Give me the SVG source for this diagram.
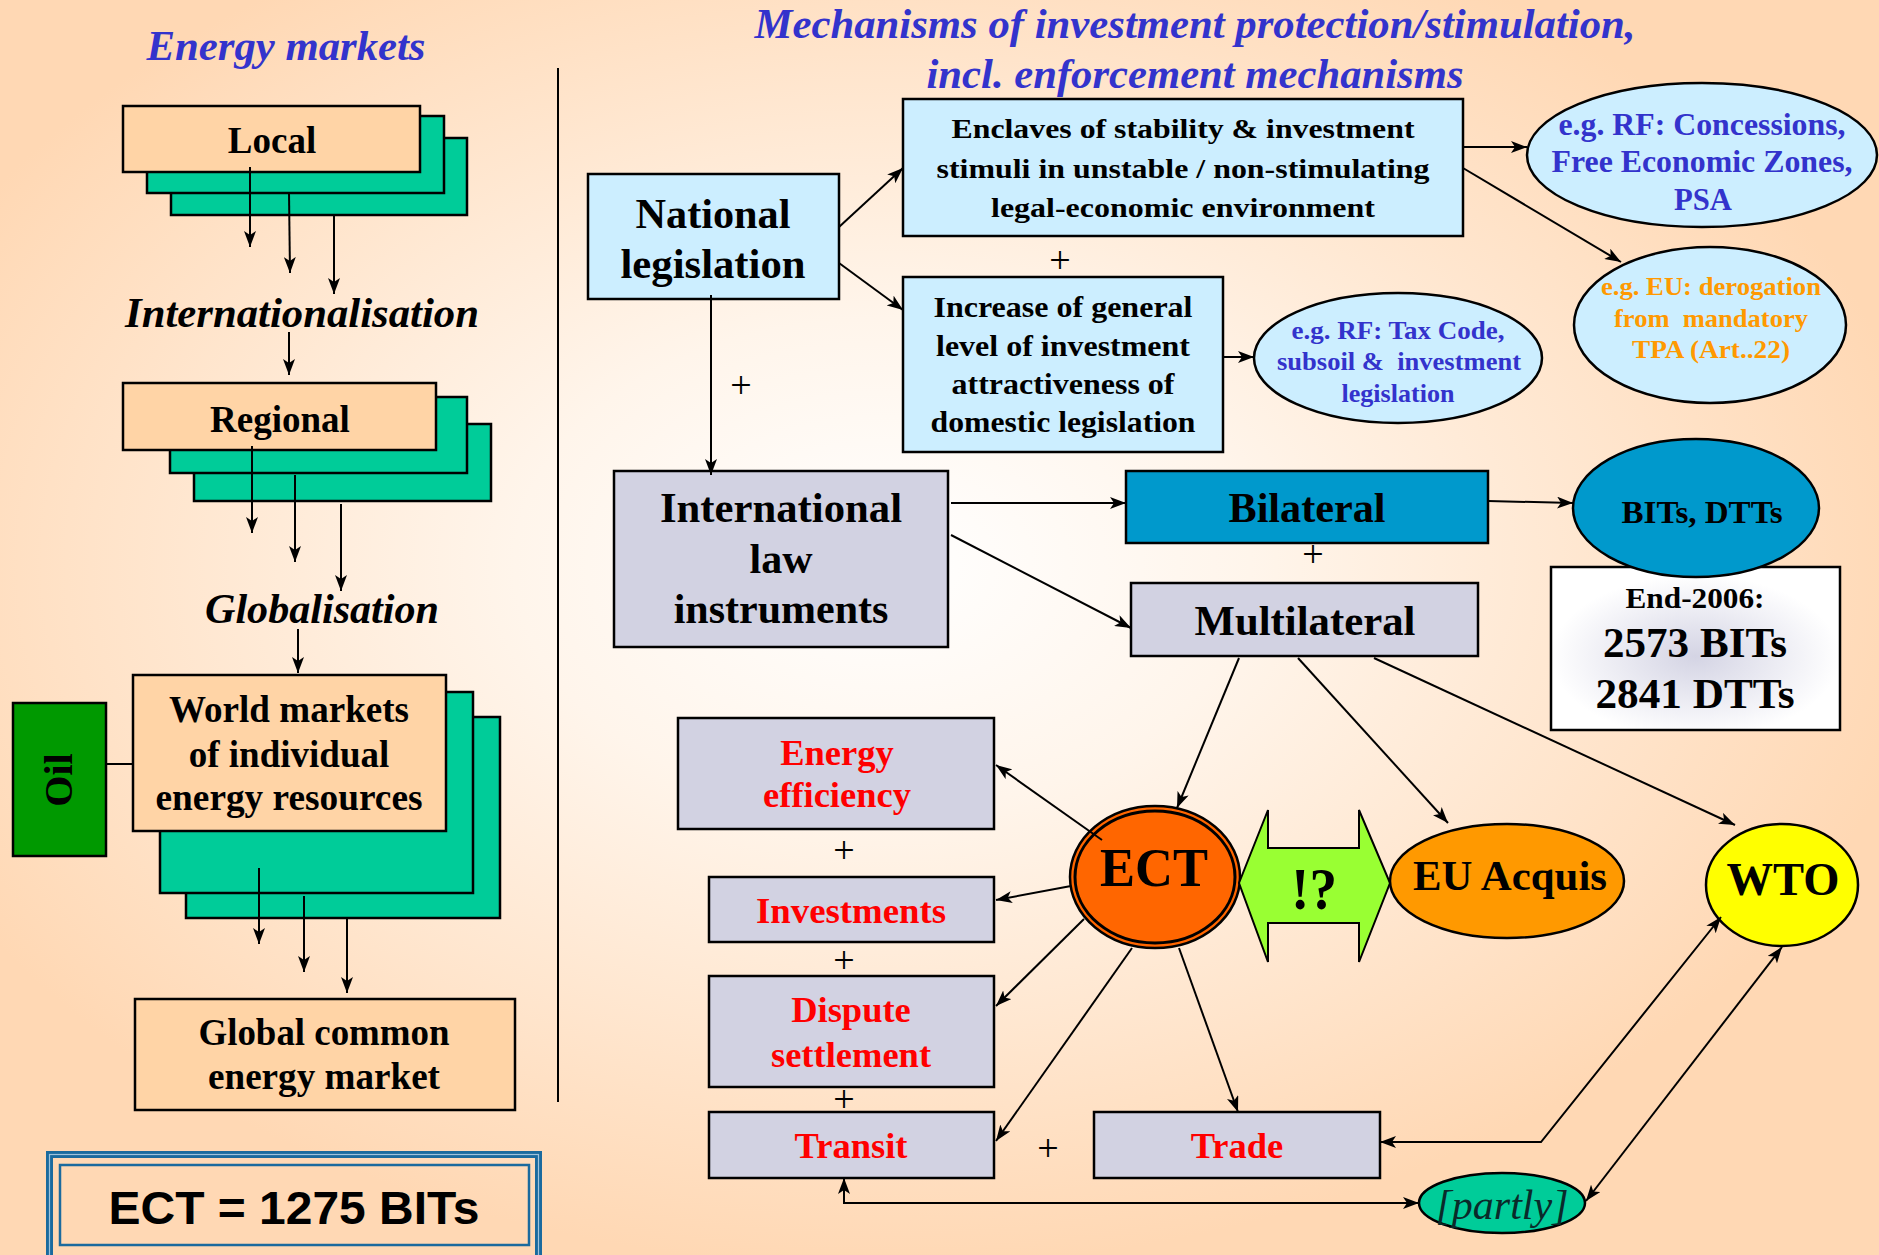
<svg xmlns="http://www.w3.org/2000/svg" width="1879" height="1255" viewBox="0 0 1879 1255">
<defs>
  <radialGradient id="bg" cx="0.47" cy="0.45" r="0.56">
    <stop offset="0" stop-color="#ffffff"/>
    <stop offset="0.35" stop-color="#fff5eb"/>
    <stop offset="1" stop-color="#ffd8b4"/>
  </radialGradient>
  <radialGradient id="endbg" cx="0.5" cy="0.55" r="0.5">
    <stop offset="0" stop-color="#d4d4e4"/>
    <stop offset="0.7" stop-color="#f2f2f7"/>
    <stop offset="1" stop-color="#ffffff"/>
  </radialGradient>
  <marker id="ah" markerUnits="userSpaceOnUse" markerWidth="16" markerHeight="12" refX="16" refY="6" orient="auto-start-reverse">
    <path d="M0,0 L16,6 L0,12 L4,6 z" fill="#000"/>
  </marker>
</defs>
<style>
  text { font-family: "Liberation Serif", "Times New Roman", serif; font-weight: bold; text-anchor: middle; fill: #000; }
  .it { font-style: italic; }
  .blue { fill: #3333cc; }
  .red { fill: #ff0000; }
  .org { fill: #ff9900; }
  .plus { font-weight: normal; font-size: 38px; }
  .box { stroke: #000; stroke-width: 2.5; }
  .pe { fill: #ffd4a6; }
  .gr { fill: #00cc99; }
  .lb { fill: #cceeff; }
  .gy { fill: #d2d2e2; }
  .cy { fill: #0099cc; }
  .cn line, .cn polyline { stroke: #000; stroke-width: 2; fill: none; }
  .cn .a { marker-end: url(#ah); }
  .cn .b { marker-start: url(#ah); marker-end: url(#ah); }
</style>
<rect x="0" y="0" width="1879" height="1255" fill="url(#bg)"/>

<!-- left column titles -->
<text class="it blue" x="286" y="60" font-size="42" textLength="279" lengthAdjust="spacingAndGlyphs">Energy markets</text>
<text class="it" x="302" y="327" font-size="42" textLength="354" lengthAdjust="spacingAndGlyphs">Internationalisation</text>
<text class="it" x="322" y="623" font-size="42" textLength="234" lengthAdjust="spacingAndGlyphs">Globalisation</text>
<line x1="558" y1="68" x2="558" y2="1102" stroke="#000" stroke-width="2"/>

<g id="local">
  <rect class="box gr" x="171" y="138" width="296" height="77"/>
  <rect class="box gr" x="147" y="116" width="297" height="77"/>
  <rect class="box pe" x="123" y="106" width="297" height="66"/>
  <text x="272" y="153" font-size="37">Local</text>
</g>
<g id="regional">
  <rect class="box gr" x="194" y="424" width="297" height="77"/>
  <rect class="box gr" x="170" y="397" width="297" height="76"/>
  <rect class="box pe" x="123" y="383" width="313" height="67"/>
  <text x="280" y="432" font-size="37">Regional</text>
</g>
<g id="world">
  <rect class="box gr" x="186" y="717" width="314" height="201"/>
  <rect class="box gr" x="160" y="692" width="313" height="201"/>
  <rect class="box pe" x="133" y="675" width="313" height="156"/>
  <text x="289" y="722" font-size="37" textLength="240" lengthAdjust="spacingAndGlyphs">World markets</text>
  <text x="289" y="767" font-size="37">of individual</text>
  <text x="289" y="810" font-size="37" textLength="267" lengthAdjust="spacingAndGlyphs">energy resources</text>
</g>
<g id="oil">
  <rect class="box" x="13" y="703" width="93" height="153" fill="#009900"/>
  <text transform="translate(72,780) rotate(-90)" x="0" y="0" font-size="40">Oil</text>
</g>
<g id="global">
  <rect class="box pe" x="135" y="999" width="380" height="111"/>
  <text x="324" y="1045" font-size="37" textLength="251" lengthAdjust="spacingAndGlyphs">Global common</text>
  <text x="324" y="1089" font-size="37" textLength="232" lengthAdjust="spacingAndGlyphs">energy market</text>
</g>
<g id="ect-bits">
  <rect x="49.5" y="1154.5" width="489" height="104" fill="none" stroke="#1a6a9e" stroke-width="7"/>
  <rect x="49.5" y="1154.5" width="489" height="104" fill="none" stroke="#9fc3dc" stroke-width="1.2"/>
  <rect x="60" y="1165" width="469" height="80" fill="none" stroke="#1a6a9e" stroke-width="2.5"/>
  <text x="294" y="1224" font-size="47" style="font-family:'Liberation Sans',Arial,sans-serif" textLength="371" lengthAdjust="spacingAndGlyphs">ECT = 1275 BITs</text>
</g>

<!-- right title -->
<text class="it blue" x="1195" y="38" font-size="42" textLength="881" lengthAdjust="spacingAndGlyphs">Mechanisms of investment protection/stimulation,</text>
<text class="it blue" x="1195" y="88" font-size="42" textLength="537" lengthAdjust="spacingAndGlyphs">incl. enforcement mechanisms</text>

<g id="national">
  <rect class="box lb" x="588" y="174" width="251" height="125"/>
  <text x="713" y="228" font-size="43" textLength="155" lengthAdjust="spacingAndGlyphs">National</text>
  <text x="713" y="278" font-size="43" textLength="185" lengthAdjust="spacingAndGlyphs">legislation</text>
</g>
<g id="enclaves">
  <rect class="box lb" x="903" y="99" width="560" height="137"/>
  <text x="1183" y="138" font-size="28" textLength="463" lengthAdjust="spacingAndGlyphs">Enclaves of stability &amp; investment</text>
  <text x="1183" y="178" font-size="28" textLength="493" lengthAdjust="spacingAndGlyphs">stimuli in unstable / non-stimulating</text>
  <text x="1183" y="217" font-size="28" textLength="384" lengthAdjust="spacingAndGlyphs">legal-economic environment</text>
</g>
<g id="increase">
  <rect class="box lb" x="903" y="277" width="320" height="175"/>
  <text x="1063" y="317" font-size="28.5" textLength="259" lengthAdjust="spacingAndGlyphs">Increase of general</text>
  <text x="1063" y="356" font-size="28.5" textLength="254" lengthAdjust="spacingAndGlyphs">level of investment</text>
  <text x="1063" y="394" font-size="28.5" textLength="223" lengthAdjust="spacingAndGlyphs">attractiveness of</text>
  <text x="1063" y="432" font-size="28.5" textLength="265" lengthAdjust="spacingAndGlyphs">domestic legislation</text>
</g>
<g id="concessions">
  <ellipse class="box lb" cx="1702" cy="155" rx="175" ry="72" stroke-width="2"/>
  <text class="blue" x="1702" y="135" font-size="32" textLength="287" lengthAdjust="spacingAndGlyphs">e.g. RF: Concessions,</text>
  <text class="blue" x="1702" y="172" font-size="32" textLength="301" lengthAdjust="spacingAndGlyphs">Free Economic Zones,</text>
  <text class="blue" x="1703" y="210" font-size="32" textLength="58" lengthAdjust="spacingAndGlyphs">PSA</text>
</g>
<g id="eu-derogation">
  <ellipse class="box lb" cx="1710" cy="325" rx="136" ry="78" stroke-width="2"/>
  <text class="org" x="1711" y="295" font-size="26" textLength="220" lengthAdjust="spacingAndGlyphs">e.g. EU: derogation</text>
  <text class="org" x="1711" y="327" font-size="26" xml:space="preserve" textLength="194" lengthAdjust="spacingAndGlyphs">from  mandatory</text>
  <text class="org" x="1711" y="358" font-size="26" textLength="158" lengthAdjust="spacingAndGlyphs">TPA (Art..22)</text>
</g>
<g id="tax-code">
  <ellipse class="box lb" cx="1398" cy="358" rx="144" ry="65" stroke-width="2"/>
  <text class="blue" x="1398" y="339" font-size="26" textLength="213" lengthAdjust="spacingAndGlyphs">e.g. RF: Tax Code,</text>
  <text class="blue" x="1399" y="370" font-size="26" xml:space="preserve" textLength="244" lengthAdjust="spacingAndGlyphs">subsoil &amp;  investment</text>
  <text class="blue" x="1398" y="402" font-size="26" textLength="113" lengthAdjust="spacingAndGlyphs">legislation</text>
</g>
<g id="international">
  <rect class="box gy" x="614" y="471" width="334" height="176"/>
  <text x="781" y="522" font-size="42" textLength="242" lengthAdjust="spacingAndGlyphs">International</text>
  <text x="781" y="573" font-size="42">law</text>
  <text x="781" y="623" font-size="42">instruments</text>
</g>
<g id="bilateral">
  <rect class="box cy" x="1126" y="471" width="362" height="72"/>
  <text x="1307" y="522" font-size="42" textLength="157" lengthAdjust="spacingAndGlyphs">Bilateral</text>
</g>
<g id="multilateral">
  <rect class="box gy" x="1131" y="583" width="347" height="73"/>
  <text x="1305" y="635" font-size="42" textLength="221" lengthAdjust="spacingAndGlyphs">Multilateral</text>
</g>
<g id="end-2006">
  <rect class="box" x="1551" y="567" width="289" height="163" fill="url(#endbg)" stroke-width="2"/>
  <text x="1695" y="608" font-size="30" textLength="139" lengthAdjust="spacingAndGlyphs">End-2006:</text>
  <text x="1695" y="657" font-size="42" textLength="184" lengthAdjust="spacingAndGlyphs">2573 BITs</text>
  <text x="1695" y="708" font-size="42" textLength="199" lengthAdjust="spacingAndGlyphs">2841 DTTs</text>
</g>
<g id="bits-dtts">
  <ellipse class="box cy" cx="1696" cy="508" rx="123" ry="69" stroke-width="2"/>
  <text x="1702" y="523" font-size="32" textLength="161" lengthAdjust="spacingAndGlyphs">BITs, DTTs</text>
</g>
<g id="energy-efficiency">
  <rect class="box gy" x="678" y="718" width="316" height="111"/>
  <text class="red" x="837" y="765" font-size="36.5">Energy</text>
  <text class="red" x="837" y="807" font-size="36.5">efficiency</text>
</g>
<g id="investments">
  <rect class="box gy" x="709" y="877" width="285" height="65"/>
  <text class="red" x="851" y="923" font-size="36.5" textLength="190" lengthAdjust="spacingAndGlyphs">Investments</text>
</g>
<g id="dispute">
  <rect class="box gy" x="709" y="976" width="285" height="111"/>
  <text class="red" x="851" y="1022" font-size="36.5">Dispute</text>
  <text class="red" x="851" y="1067" font-size="36.5">settlement</text>
</g>
<g id="transit">
  <rect class="box gy" x="709" y="1112" width="285" height="66"/>
  <text class="red" x="851" y="1158" font-size="36.5">Transit</text>
</g>
<g id="trade">
  <rect class="box gy" x="1094" y="1112" width="286" height="66"/>
  <text class="red" x="1237" y="1158" font-size="36.5">Trade</text>
</g>
<g id="ect">
  <ellipse cx="1155" cy="877" rx="85" ry="71" fill="#ff6600" stroke="#000" stroke-width="2.5"/>
  <ellipse cx="1155" cy="877" rx="80" ry="66" fill="none" stroke="#000" stroke-width="3"/>
  <text x="1154" y="886" font-size="54" textLength="108" lengthAdjust="spacingAndGlyphs">ECT</text>
</g>
<g id="question">
  <polygon points="1239,883 1268,810 1268,848 1359,848 1359,810 1390,883 1359,962 1359,923 1268,923 1268,962" fill="#99ff33" stroke="#000" stroke-width="2"/>
  <text x="1314" y="909" font-size="60" textLength="46" lengthAdjust="spacingAndGlyphs">!?</text>
</g>
<g id="eu-acquis">
  <ellipse class="box" cx="1507" cy="881" rx="117" ry="57" fill="#ff9900" stroke-width="2"/>
  <text x="1510" y="890" font-size="42" textLength="194" lengthAdjust="spacingAndGlyphs">EU Acquis</text>
</g>
<g id="wto">
  <ellipse class="box" cx="1782" cy="885" rx="76" ry="61" fill="#ffff00" stroke-width="2"/>
  <text x="1783" y="895" font-size="47" textLength="113" lengthAdjust="spacingAndGlyphs">WTO</text>
</g>
<g id="partly">
  <ellipse class="box" cx="1502" cy="1203" rx="83" ry="30" fill="#00cc99" stroke-width="2"/>
  <text class="it" x="1502" y="1219" font-size="42" style="font-weight:normal;fill:#0a2a2a" textLength="133" lengthAdjust="spacingAndGlyphs">[partly]</text>
</g>

<g id="plus-signs">
  <text class="plus" x="1060" y="273">+</text>
  <text class="plus" x="741" y="398">+</text>
  <text class="plus" x="1313" y="567">+</text>
  <text class="plus" x="844" y="863">+</text>
  <text class="plus" x="844" y="973">+</text>
  <text class="plus" x="844" y="1112">+</text>
  <text class="plus" x="1048" y="1161">+</text>
</g>

<g id="connectors" class="cn">
  <line class="a" x1="250" y1="167" x2="250" y2="247"/>
  <line class="a" x1="289" y1="193" x2="290" y2="273"/>
  <line class="a" x1="334" y1="215" x2="334" y2="294"/>
  <line class="a" x1="289" y1="332" x2="289" y2="375"/>
  <line class="a" x1="252" y1="446" x2="252" y2="533"/>
  <line class="a" x1="295" y1="475" x2="295" y2="562"/>
  <line class="a" x1="341" y1="504" x2="341" y2="591"/>
  <line class="a" x1="298" y1="629" x2="298" y2="673"/>
  <line class="a" x1="259" y1="868" x2="259" y2="944"/>
  <line class="a" x1="304" y1="896" x2="304" y2="972"/>
  <line class="a" x1="347" y1="917" x2="347" y2="993"/>
  <line x1="106" y1="764" x2="133" y2="764"/>

  <line class="a" x1="839" y1="227" x2="903" y2="168"/>
  <line class="a" x1="839" y1="263" x2="903" y2="310"/>
  <line class="a" x1="711" y1="295" x2="711" y2="475"/>
  <line class="a" x1="1223" y1="357" x2="1254" y2="357"/>
  <line class="a" x1="1463" y1="147" x2="1527" y2="147"/>
  <line class="a" x1="1463" y1="168" x2="1621" y2="262"/>
  <line class="a" x1="951" y1="503" x2="1126" y2="503"/>
  <line class="a" x1="951" y1="535" x2="1131" y2="628"/>
  <line class="a" x1="1488" y1="501" x2="1573" y2="503"/>
  <line class="a" x1="1239" y1="658" x2="1177" y2="808"/>
  <line class="a" x1="1298" y1="658" x2="1448" y2="823"/>
  <line class="a" x1="1374" y1="658" x2="1735" y2="825"/>
  <line class="a" x1="1102" y1="840" x2="996" y2="765"/>
  <line class="a" x1="1071" y1="886" x2="996" y2="900"/>
  <line class="a" x1="1084" y1="919" x2="996" y2="1006"/>
  <line class="a" x1="1132" y1="948" x2="996" y2="1141"/>
  <line class="a" x1="1179" y1="948" x2="1238" y2="1112"/>
  <polyline class="b" points="1380,1142 1541,1142 1721,917"/>
  <line class="b" x1="1586" y1="1201" x2="1782" y2="947"/>
  <polyline class="b" points="844,1178 844,1203 1419,1203"/>
</g>
</svg>
